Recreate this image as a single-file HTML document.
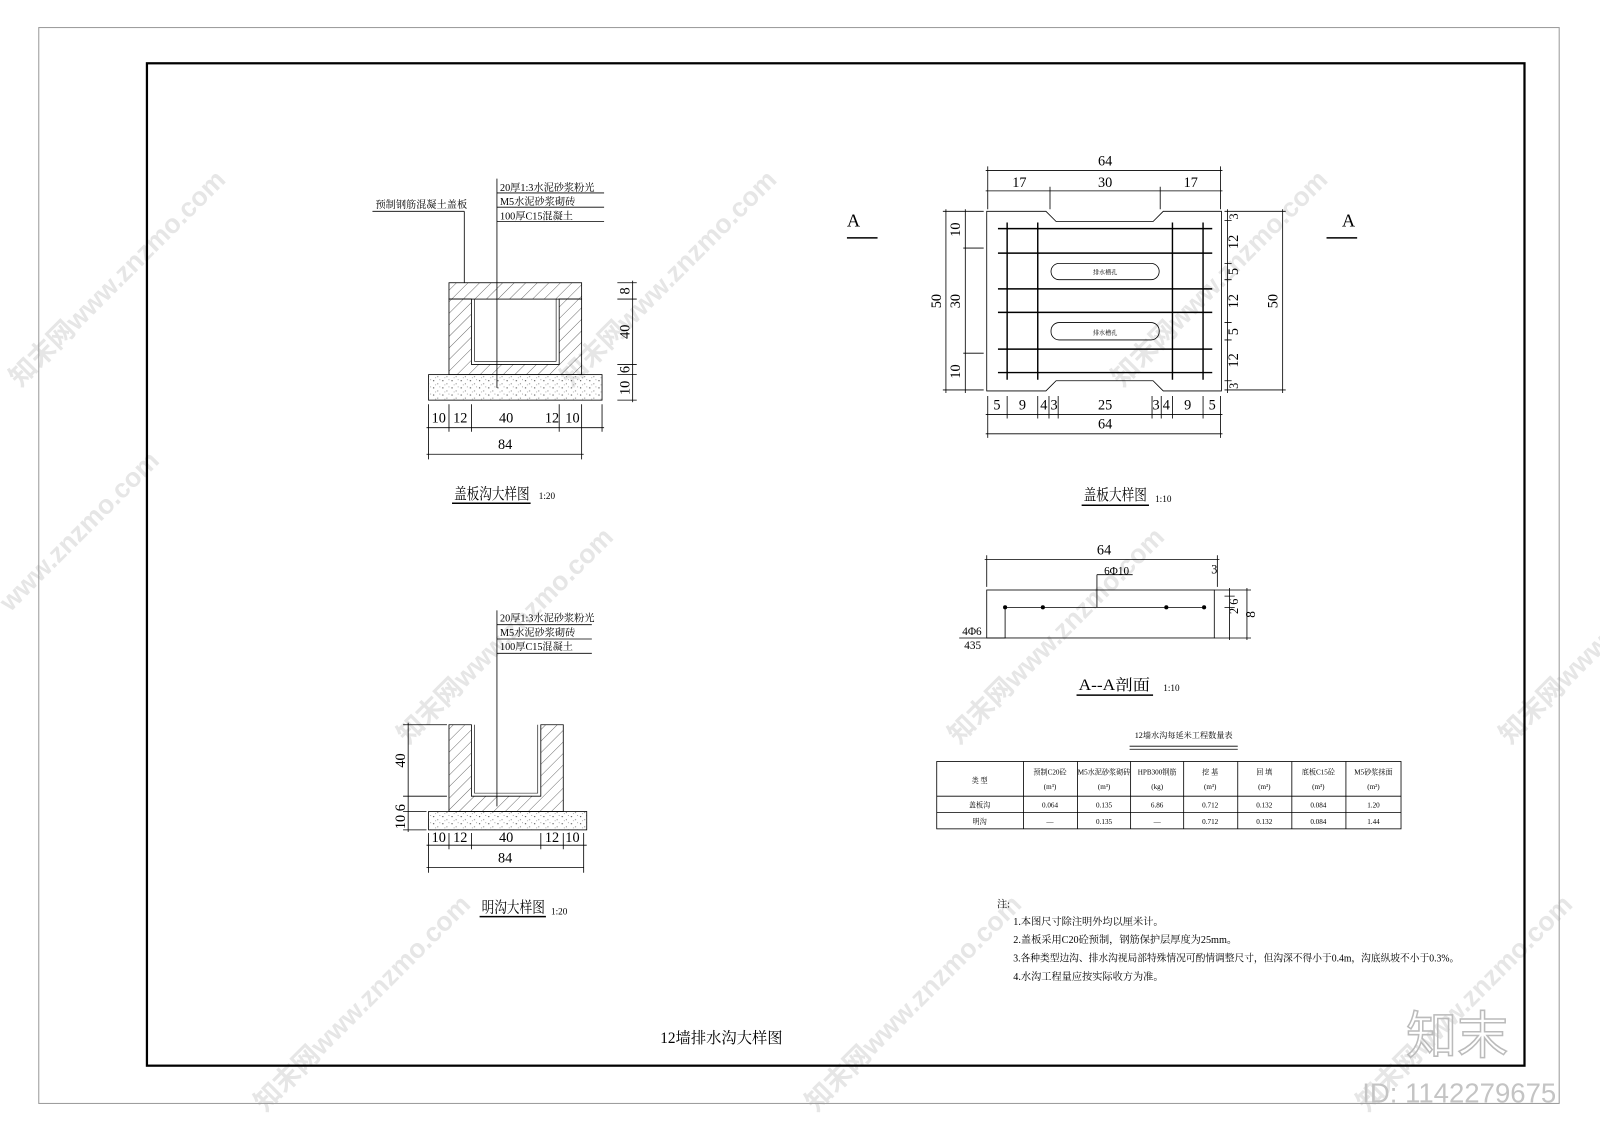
<!DOCTYPE html>
<html><head><meta charset="utf-8"><style>
html,body{margin:0;padding:0;background:#fff;}
svg{display:block;}
text{font-family:"Liberation Serif","Noto Serif CJK SC","Noto Sans CJK SC",serif;fill:#000;}
.s{font-size:10px;}
.d{font-size:15px;}
.wm{font-family:"Liberation Sans","Noto Sans CJK SC",sans-serif;font-weight:bold;font-size:26px;fill:#e6e6e6;}
</style></head><body>
<svg width="1600" height="1131" viewBox="0 0 1568 1108" preserveAspectRatio="none" xmlns="http://www.w3.org/2000/svg">
<defs>
<pattern id="h" width="8" height="8" patternUnits="userSpaceOnUse" patternTransform="rotate(45)"><line x1="0" y1="0" x2="0" y2="8" stroke="#333" stroke-width="0.7"/></pattern>
<pattern id="c" width="9" height="7" patternUnits="userSpaceOnUse"><circle cx="2" cy="2" r="0.6" fill="#444"/><circle cx="6" cy="5" r="0.5" fill="#444"/><circle cx="4" cy="6" r="0.4" fill="#666"/><circle cx="8" cy="1" r="0.4" fill="#666"/></pattern>
</defs>
<rect x="0" y="0" width="1568" height="1108" fill="#fff"/>
<!-- watermarks -->
<g>
<text class="wm" transform="translate(20,380) rotate(-45)">知末网www.znzmo.com</text>
<text class="wm" transform="translate(560,380) rotate(-45)">知末网www.znzmo.com</text>
<text class="wm" transform="translate(1100,380) rotate(-45)">知末网www.znzmo.com</text>
<text class="wm" transform="translate(10,600) rotate(-45)">www.znzmo.com</text>
<text class="wm" transform="translate(400,730) rotate(-45)">知末网www.znzmo.com</text>
<text class="wm" transform="translate(940,730) rotate(-45)">知末网www.znzmo.com</text>
<text class="wm" transform="translate(1480,730) rotate(-45)">知末网www.</text>
<text class="wm" transform="translate(260,1090) rotate(-45)">知末网www.znzmo.com</text>
<text class="wm" transform="translate(800,1090) rotate(-45)">知末网www.znzmo.com</text>
<text class="wm" transform="translate(1340,1090) rotate(-45)">知末网www.znzmo.com</text>
</g>
<!-- frames -->
<rect x="38" y="27" width="1490" height="1054" fill="none" stroke="#999" stroke-width="1"/>
<rect x="144" y="62" width="1350" height="982" fill="none" stroke="#000" stroke-width="2.2"/>

<g stroke="#000" stroke-width="0.8" fill="none">
<!-- Drawing 1 -->
<rect x="440" y="277" width="130" height="16" fill="url(#h)"/>
<path d="M440 293 V367 H570 V293 H548 V357 H462 V293 Z" fill="url(#h)"/>
<path d="M465 293 V354 H545 V293" stroke-width="0.6"/>
<rect x="420" y="367" width="170" height="25" fill="url(#c)"/>
<line x1="455" y1="207" x2="455" y2="277"/><line x1="365" y1="207" x2="455" y2="207"/>
<line x1="487" y1="175" x2="487" y2="380"/>
<line x1="487" y1="189" x2="592" y2="189"/><line x1="487" y1="203" x2="592" y2="203"/><line x1="487" y1="217" x2="592" y2="217"/>
<line x1="418" y1="419" x2="592" y2="419"/><line x1="418" y1="445" x2="572" y2="445"/>
<path d="M420 396V450 M440 396V423 M462 396V423 M548 396V423 M570 396V450 M590 396V423"/>
<line x1="620" y1="275" x2="620" y2="394"/>
<path d="M605 277H624 M605 293H624 M605 357H624 M605 367H624 M605 392H624"/>
<!-- Drawing 2 -->
<path d="M440 710 H462 V780 H530 V710 H552 V795 H440 Z" fill="url(#h)"/>
<path d="M465 710 V777 H527 V710" stroke-width="0.6"/>
<rect x="420" y="795" width="155" height="18" fill="url(#c)"/>
<line x1="487" y1="598" x2="487" y2="790"/>
<line x1="487" y1="612" x2="580" y2="612"/><line x1="487" y1="626" x2="580" y2="626"/><line x1="487" y1="640" x2="580" y2="640"/>
<line x1="400" y1="708" x2="400" y2="815"/>
<path d="M395 710H438 M395 780H438 M395 795H418 M395 813H418"/>
<line x1="418" y1="828" x2="575" y2="828"/><line x1="418" y1="850" x2="572" y2="850"/>
<path d="M420 816V855 M440 816V832 M462 816V832 M530 816V832 M552 816V832 M572 816V855"/>
<!-- Plan -->
<path d="M967 207 H1025 L1035 217 H1130 L1140 207 H1197 V383 H1140 L1130 373 H1035 L1025 383 H967 Z"/>
<g stroke-width="1.4">
<path d="M978 224H1188 M978 248H1188 M978 283H1188 M978 306H1188 M978 342H1188 M978 365H1188"/>
<path d="M987 218V372 M1017 218V372 M1149 218V372 M1179 218V372"/>
</g>
<rect x="1030" y="258" width="106" height="16" rx="8"/>
<rect x="1030" y="316" width="106" height="17" rx="8"/>
<line x1="966" y1="167" x2="1198" y2="167"/><line x1="966" y1="187" x2="1198" y2="187"/>
<path d="M968 163V205 M1029 183V205 M1137 183V205 M1196 163V205"/>
<line x1="927" y1="205" x2="927" y2="385"/><line x1="946" y1="205" x2="946" y2="385"/>
<path d="M924 207H964 M944 243H964 M944 346H964 M924 382H964"/>
<line x1="1203" y1="205" x2="1203" y2="385"/><line x1="1257" y1="205" x2="1257" y2="385"/>
<path d="M1200 207H1260 M1200 216H1207 M1200 258H1207 M1200 274H1207 M1200 316H1207 M1200 333H1207 M1200 373H1207 M1200 382H1260"/>
<line x1="966" y1="406" x2="1198" y2="406"/><line x1="966" y1="425" x2="1198" y2="425"/>
<path d="M968 388V429 M987 388V410 M1017 388V410 M1028 388V410 M1037 388V410 M1129 388V410 M1138 388V410 M1149 388V410 M1179 388V410 M1196 388V429"/>
<!-- A markers -->
<line x1="830" y1="233" x2="860" y2="233" stroke-width="1.5"/>
<line x1="1300" y1="233" x2="1330" y2="233" stroke-width="1.5"/>
<!-- section -->
<line x1="965" y1="548" x2="1195" y2="548"/><path d="M967 544V575 M1193 544V575"/>
<rect x="967" y="578" width="223" height="47"/>
<line x1="985" y1="595" x2="1182" y2="595"/>
<path d="M1075 563V595 M1075 563H1110"/>
<line x1="1205" y1="576" x2="1205" y2="627"/><line x1="1222" y1="576" x2="1222" y2="627"/>
<path d="M1190 578H1226 M1200 584H1210 M1200 595H1210 M1190 625H1226"/>
<path d="M940 625H985 L985 595"/>
</g>
<g fill="#000"><circle cx="985" cy="595" r="2"/><circle cx="1022" cy="595" r="2"/><circle cx="1143" cy="595" r="2"/><circle cx="1180" cy="595" r="2"/></g>

<!-- texts drawing 1 -->
<text x="368" y="204" class="s">预制钢筋混凝土盖板</text>
<text x="490" y="187" class="s">20厚1:3水泥砂浆粉光</text>
<text x="490" y="201" class="s">M5水泥砂浆砌砖</text>
<text x="490" y="215" class="s">100厚C15混凝土</text>
<g class="d" text-anchor="middle">
<text x="430" y="414" font-size="14">10</text><text x="451" y="414" font-size="14">12</text><text x="496" y="414" font-size="14">40</text><text x="541" y="414" font-size="14">12</text><text x="561" y="414" font-size="14">10</text>
<text x="495" y="440" font-size="14">84</text>
<text transform="translate(617,285) rotate(-90)" font-size="14">8</text>
<text transform="translate(617,325) rotate(-90)" font-size="14">40</text>
<text transform="translate(617,362) rotate(-90)" font-size="14">6</text>
<text transform="translate(617,380) rotate(-90)" font-size="14">10</text>
</g>
<text x="445" y="489" font-size="15" textLength="74" lengthAdjust="spacingAndGlyphs">盖板沟大样图</text><text x="528" y="489" font-size="9">1:20</text>
<line x1="443" y1="493" x2="520" y2="493" stroke="#000" stroke-width="1.5"/>

<!-- drawing 2 -->
<text x="490" y="609" class="s">20厚1:3水泥砂浆粉光</text>
<text x="490" y="623" class="s">M5水泥砂浆砌砖</text>
<text x="490" y="637" class="s">100厚C15混凝土</text>
<g text-anchor="middle" font-size="14">
<text transform="translate(397,745) rotate(-90)">40</text>
<text transform="translate(397,800) rotate(-90)">10 6</text>
<text x="430" y="825">10</text><text x="451" y="825">12</text><text x="496" y="825">40</text><text x="541" y="825">12</text><text x="561" y="825">10</text>
<text x="495" y="845">84</text>
</g>
<text x="472" y="894" font-size="15" textLength="62" lengthAdjust="spacingAndGlyphs">明沟大样图</text><text x="540" y="896" font-size="9">1:20</text>
<line x1="470" y1="898" x2="535" y2="898" stroke="#000" stroke-width="1.5"/>

<!-- plan text -->
<g text-anchor="middle" font-size="14">
<text x="1083" y="162">64</text>
<text x="999" y="183">17</text><text x="1083" y="183">30</text><text x="1167" y="183">17</text>
<text transform="translate(922,295) rotate(-90)">50</text>
<text transform="translate(941,225) rotate(-90)">10</text>
<text transform="translate(941,295) rotate(-90)">30</text>
<text transform="translate(941,364) rotate(-90)">10</text>
<text transform="translate(1213,212) rotate(-90)" font-size="12">3</text>
<text transform="translate(1213,237) rotate(-90)">12</text>
<text transform="translate(1213,266) rotate(-90)">5</text>
<text transform="translate(1213,295) rotate(-90)">12</text>
<text transform="translate(1213,325) rotate(-90)">5</text>
<text transform="translate(1213,353) rotate(-90)">12</text>
<text transform="translate(1213,378) rotate(-90)" font-size="12">3</text>
<text transform="translate(1252,295) rotate(-90)">50</text>
<text x="977" y="401">5</text><text x="1002" y="401">9</text><text x="1023" y="401">4</text><text x="1033" y="401">3</text>
<text x="1083" y="401">25</text><text x="1133" y="401">3</text><text x="1143" y="401">4</text><text x="1164" y="401">9</text><text x="1188" y="401">5</text>
<text x="1083" y="420">64</text>
</g>
<text x="1083" y="269" font-size="6" text-anchor="middle">排水槽孔</text>
<text x="1083" y="328" font-size="6" text-anchor="middle">排水槽孔</text>
<text x="830" y="222" font-size="18">A</text>
<text x="1315" y="222" font-size="18">A</text>
<text x="1062" y="490" font-size="15" textLength="62" lengthAdjust="spacingAndGlyphs">盖板大样图</text><text x="1132" y="492" font-size="9">1:10</text>
<line x1="1060" y1="495" x2="1126" y2="495" stroke="#000" stroke-width="1.5"/>

<!-- section text -->
<text x="1082" y="543" font-size="14" text-anchor="middle">64</text>
<text x="1082" y="563" font-size="11">6Φ10</text>
<text x="1187" y="562" font-size="12">3</text>
<text transform="translate(1213,594) rotate(-90)" font-size="12" text-anchor="middle">2 6</text>
<text transform="translate(1230,602) rotate(-90)" font-size="13" text-anchor="middle">8</text>
<text x="943" y="622" font-size="11">4Φ6</text>
<text x="945" y="636" font-size="11">435</text>
<text x="1057" y="676" font-size="15" textLength="70" lengthAdjust="spacingAndGlyphs">A--A剖面</text><text x="1140" y="677" font-size="9">1:10</text>
<line x1="1055" y1="681" x2="1130" y2="681" stroke="#000" stroke-width="1.5"/>

<!-- table -->
<text x="1160" y="723" font-size="8" text-anchor="middle">12墙水沟每延米工程数量表</text>
<path d="M1107 731H1213 M1107 734H1213" stroke="#000" stroke-width="0.8"/>
<g stroke="#000" stroke-width="0.8" fill="none">
<rect x="918" y="746" width="455" height="66"/>
<path d="M918 780H1373 M918 796H1373 M1003 746V812 M1056 746V812 M1108 746V812 M1160 746V812 M1213 746V812 M1266 746V812 M1319 746V812"/>
</g>
<g font-size="7" text-anchor="middle">
<text x="960" y="767">类 型</text>
<text x="1029" y="759">预制C20砼</text><text x="1029" y="773">(m³)</text>
<text x="1082" y="759">M5水泥砂浆砌砖</text><text x="1082" y="773">(m³)</text>
<text x="1134" y="759">HPB300钢筋</text><text x="1134" y="773">(kg)</text>
<text x="1186" y="759">挖 基</text><text x="1186" y="773">(m³)</text>
<text x="1239" y="759">回 填</text><text x="1239" y="773">(m³)</text>
<text x="1292" y="759">底板C15砼</text><text x="1292" y="773">(m³)</text>
<text x="1346" y="759">M5砂浆抹面</text><text x="1346" y="773">(m²)</text>
<text x="960" y="791">盖板沟</text><text x="1029" y="791">0.064</text><text x="1082" y="791">0.135</text><text x="1134" y="791">6.86</text><text x="1186" y="791">0.712</text><text x="1239" y="791">0.132</text><text x="1292" y="791">0.084</text><text x="1346" y="791">1.20</text>
<text x="960" y="807">明沟</text><text x="1029" y="807">—</text><text x="1082" y="807">0.135</text><text x="1134" y="807">—</text><text x="1186" y="807">0.712</text><text x="1239" y="807">0.132</text><text x="1292" y="807">0.084</text><text x="1346" y="807">1.44</text>
</g>

<!-- notes -->
<g font-size="10">
<text x="977" y="889">注:</text>
<text x="993" y="906">1.本图尺寸除注明外均以厘米计。</text>
<text x="993" y="924">2.盖板采用C20砼预制，钢筋保护层厚度为25mm。</text>
<text x="993" y="942" textLength="437" lengthAdjust="spacingAndGlyphs">3.各种类型边沟、排水沟视局部特殊情况可酌情调整尺寸，但沟深不得小于0.4m，沟底纵坡不小于0.3%。</text>
<text x="993" y="960">4.水沟工程量应按实际收方为准。</text>
</g>
<text x="707" y="1022" font-size="15" text-anchor="middle">12墙排水沟大样图</text>

<!-- logo -->
<text x="1378" y="1032" style="font-size:50px;fill:none;stroke:#bbb;stroke-width:1.5;font-family:'Noto Sans CJK SC',sans-serif">知末</text>
<text x="1335" y="1080" style="font-size:27px;fill:#c4c4c4;font-family:'Liberation Sans',sans-serif">ID: 1142279675</text>
</svg>
</body></html>
